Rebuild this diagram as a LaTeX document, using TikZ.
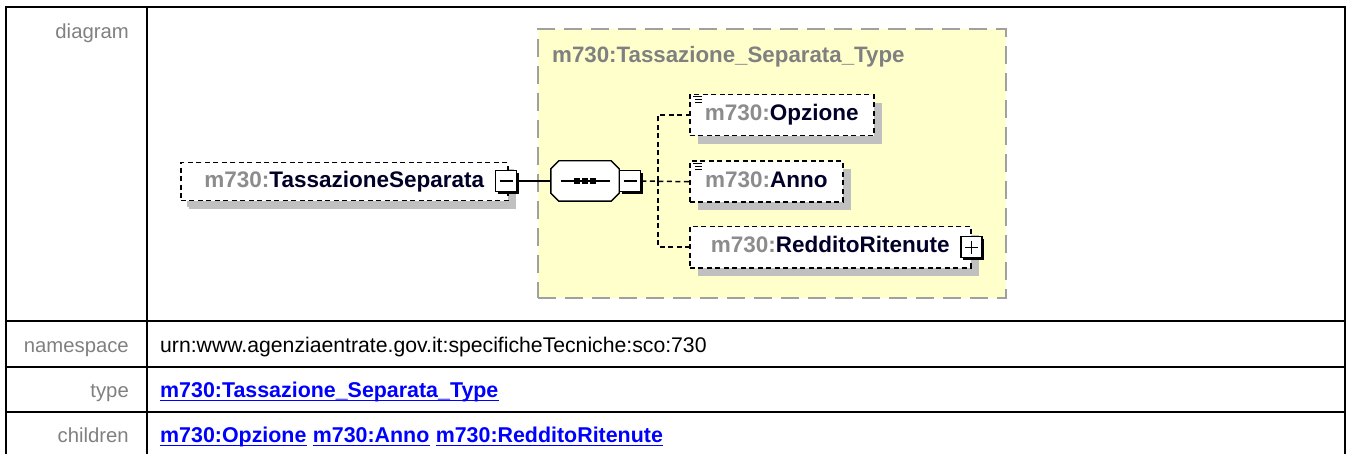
\documentclass[tikz,border=0pt]{standalone}
\usepackage{fontspec}
\setmainfont{Liberation Sans}
\usetikzlibrary{shadows,calc}
\definecolor{labgray}{RGB}{128,128,128}
\definecolor{nsgray}{RGB}{140,140,140}
\definecolor{namecol}{RGB}{0,0,40}
\definecolor{ybox}{RGB}{255,255,204}
\definecolor{ydash}{RGB}{160,160,160}
\definecolor{shad}{RGB}{192,192,192}
\definecolor{linkblue}{RGB}{0,0,255}
\newcommand\myulnode[1]{\draw[line width=1.7pt, linkblue] ($(#1.base west)+(0,3.5)$) -- ($(#1.base east)+(0,3.5)$);}
\begin{document}
\begin{tikzpicture}[x=1pt,y=-1pt,
  tbl/.style={line width=2pt, line cap=rect},
  lab/.style={anchor=base east, inner sep=0pt, text=labgray, font=\fontsize{20.3}{24}\selectfont},
  val/.style={anchor=base west, inner sep=0pt, text=black, font=\fontsize{21.2}{24}\selectfont},
  lnk/.style={anchor=base west, inner sep=0pt, text=linkblue, font=\fontsize{21.4}{24}\selectfont\bfseries},
  typebox/.style={draw=ydash, fill=ybox, line width=2pt, dash pattern=on 18pt off 9pt, anchor=north west, inner sep=0pt},
  elem/.style={draw=black, fill=white, line width=1.5pt, dash pattern=on 5pt off 3.5pt, anchor=north west,
    inner sep=0pt, text height=16pt, text depth=5pt, font=\fontsize{22.5}{26}\selectfont\bfseries,
    general shadow={fill=shad, shadow xshift=8pt, shadow yshift=-8pt}},
  pm/.style={draw=black, fill=white, line width=1.4pt, minimum size=21pt, inner sep=0pt,
    general shadow={fill=black, shadow xshift=2.4pt, shadow yshift=-2.4pt}},
  minus/.style={pm, path picture={\draw[line width=1.4pt] ($(path picture bounding box.west)+(4,0)$) -- ($(path picture bounding box.east)+(-4,0)$);}},
  plus/.style={pm, path picture={\draw[line width=1.4pt] ($(path picture bounding box.west)+(4,0)$) -- ($(path picture bounding box.east)+(-4,0)$);
     \draw[line width=1.4pt] ($(path picture bounding box.north)+(0,4)$) -- ($(path picture bounding box.south)+(0,-4)$);}},
  conn/.style={line width=1.5pt, draw=black},
  dconn/.style={line width=1.5pt, draw=black, dash pattern=on 5pt off 3.5pt},
]
\useasboundingbox (0,0) rectangle (1348,454);

% table
\draw[tbl] (6,7) -- (1345,7);
\draw[tbl] (6,7) -- (6,460);
\draw[tbl] (147,7) -- (147,460);
\draw[tbl] (1345,7) -- (1345,460);
\draw[tbl] (6,321) -- (1345,321);
\draw[tbl] (6,367) -- (1345,367);
\draw[tbl] (6,412) -- (1345,412);

\node[lab] (ldiag) at (129,39) {diagram};
\node[lab] (lns) at (129,352) {namespace};
\node[lab] (ltype) at (129,397) {type};
\node[lab] (lchild) at (129,442) {children};

\node[val] (vns) at (160,352) {urn:www.agenziaentrate.gov.it:specificheTecniche:sco:730};
\node[lnk] (vtype) at (160,397) {m730:Tassazione\_Separata\_Type};
\myulnode{vtype}
\node[lnk] (c1) at (160,442) {m730:Opzione};
\node[lnk] (c2) at ($(c1.base east)+(6,0)$) {m730:Anno};
\node[lnk] (c3) at ($(c2.base east)+(6,0)$) {m730:RedditoRitenute};
\myulnode{c1}
\myulnode{c2}
\myulnode{c3}

% type box
\node[typebox, minimum width=468pt, minimum height=269pt] (tbox) at (537,28) {};
\node[anchor=base west, inner sep=0pt, text=labgray, font=\fontsize{22.3}{26}\selectfont\bfseries] (ttitle) at (552,63) {m730:Tassazione\_Separata\_Type};

% main element
\node[elem, minimum width=327pt, minimum height=38pt, general shadow={fill=shad, shadow xshift=6pt, shadow yshift=-6pt}] (tassep) at (180,162)
  {{\color{nsgray}m730:}{\color{namecol}TassazioneSeparata}\hspace{3pt}};
\node[minus] (m1) at (506,181) {};

% sequence
\node[minimum width=68pt, minimum height=40pt, inner sep=0pt] (seq) at (585,181) {};
\begin{scope}[shift={(6,6)}]
\fill[shad] ($(seq.north west)+(8,0)$) -- ($(seq.north east)+(-8,0)$) -- ($(seq.north east)+(0,8)$) -- ($(seq.south east)+(0,-8)$) -- ($(seq.south east)+(-8,0)$) -- ($(seq.south west)+(8,0)$) -- ($(seq.south west)+(0,-8)$) -- ($(seq.north west)+(0,8)$) -- cycle;
\end{scope}
\draw[line width=1.4pt, fill=white] ($(seq.north west)+(8,0)$) -- ($(seq.north east)+(-8,0)$) -- ($(seq.north east)+(0,8)$) -- ($(seq.south east)+(0,-8)$) -- ($(seq.south east)+(-8,0)$) -- ($(seq.south west)+(8,0)$) -- ($(seq.south west)+(0,-8)$) -- ($(seq.north west)+(0,8)$) -- cycle;
\draw[line width=1.6pt] ($(seq.west)+(10,0)$) -- ($(seq.east)+(-9,0)$);
\foreach \dx in {-8,0,8} {\fill ($(seq.center)+(\dx-3,-3)$) rectangle +(6,6);}
\node[minus] (m2) at ($(seq.east)+(11,0)$) {};

\draw[conn] (m1.east) -- (seq.west);

% children
\node[elem, minimum width=184pt, minimum height=41pt] (opz) at (689,94)
  {{\color{nsgray}m730:}{\color{namecol}Opzione}};
\node[elem, minimum width=153pt, minimum height=41pt] (anno) at (689,160.5)
  {{\color{nsgray}m730:}{\color{namecol}Anno}};
\node[elem, minimum width=281pt, minimum height=41pt] (red) at (689,226)
  {{\color{nsgray}m730:}{\color{namecol}RedditoRitenute}\hspace{4pt}};
\node[plus] (p1) at (red.east) {};

% simple-content icons
\foreach \b in {opz,anno} {
  \draw[line width=1pt] ($(\b.north west)+(4,3)$) -- +(9,0);
  \draw[line width=1pt] ($(\b.north west)+(6,6)$) -- +(7,0);
  \draw[line width=1pt] ($(\b.north west)+(6,9)$) -- +(7,0);
}

\coordinate (fork) at (658,181);
\draw[dconn] (m2.east) -- (anno.west);
\draw[dconn] (fork) |- (opz.west);
\draw[dconn] (fork) |- (red.west);
\end{tikzpicture}
\end{document}
